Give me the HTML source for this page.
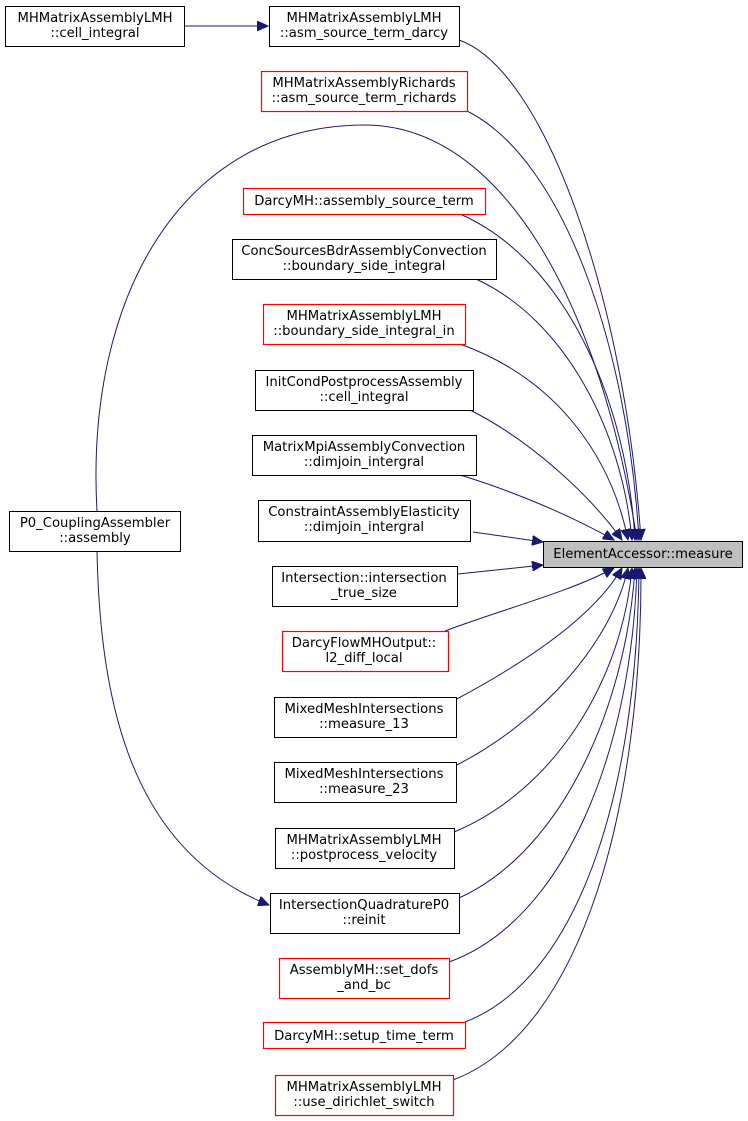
<!DOCTYPE html>
<html><head><meta charset="utf-8"><style>
html,body{margin:0;padding:0;background:#fff;}
svg{display:block;}
text{font-family:"DejaVu Sans","Liberation Sans",sans-serif;font-size:13.2px;fill:#000;text-anchor:middle;}
.b{fill:#fff;stroke:#000;stroke-width:1;}
.r{fill:#fff;stroke:#ff0000;stroke-width:1.2;}
.e{fill:none;stroke:#191970;stroke-width:1;}
</style></head><body>
<svg width="748" height="1121" viewBox="0 0 748 1121" xmlns="http://www.w3.org/2000/svg">
<defs>
<marker id="a" markerUnits="userSpaceOnUse" markerWidth="12" markerHeight="10" refX="11" refY="5" orient="auto">
<path d="M0,0 L11,5 L0,10 Z" fill="#191970" stroke="#191970"/>
</marker>
</defs>
<g class="e">
<path d="M184,26 L268,26" marker-end="url(#a)"/>
<path d="M459,40 C545,70 625,300 641,540" marker-end="url(#a)"/>
<path d="M467,111 C565,160 628,350 639,540" marker-end="url(#a)"/>
<path d="M97,511 C85,300 180,125 365,125 C500,125 600,300 637,540" marker-end="url(#a)"/>
<path d="M460,214 C565,260 627,400 635,540" marker-end="url(#a)"/>
<path d="M476,279 C565,320 622,430 632,540" marker-end="url(#a)"/>
<path d="M460,344 C560,380 612,460 628,540" marker-end="url(#a)"/>
<path d="M470,410 C530,440 590,495 622,540" marker-end="url(#a)"/>
<path d="M460,475 C510,490 570,515 614,540" marker-end="url(#a)"/>
<path d="M473,532 L543,542" marker-end="url(#a)"/>
<path d="M458,574 L543,565" marker-end="url(#a)"/>
<path d="M445,631 C500,610 570,592 614,568" marker-end="url(#a)"/>
<path d="M455,700 C530,660 595,615 622,568" marker-end="url(#a)"/>
<path d="M455,766 C545,720 612,640 628,568" marker-end="url(#a)"/>
<path d="M454,832 C555,790 622,680 632,568" marker-end="url(#a)"/>
<path d="M459,898 C565,850 627,700 635,568" marker-end="url(#a)"/>
<path d="M449,962 C565,920 632,750 637,568" marker-end="url(#a)"/>
<path d="M465,1022 C575,980 637,800 639,568" marker-end="url(#a)"/>
<path d="M453,1080 C585,1030 642,800 641,568" marker-end="url(#a)"/>
<path d="M97,551 C100,700 130,850 269,905" marker-end="url(#a)"/>
</g>
<rect class="b" x="5.5" y="6.5" width="179" height="40"/>
<text x="95" y="22">MHMatrixAssemblyLMH</text><text x="95" y="37">::cell_integral</text>
<rect class="b" x="269.5" y="6.5" width="190" height="40"/>
<text x="364" y="22">MHMatrixAssemblyLMH</text><text x="364" y="37">::asm_source_term_darcy</text>
<rect class="r" x="261.5" y="71.5" width="206" height="40" stroke="#ff0000"/>
<text x="364" y="87">MHMatrixAssemblyRichards</text><text x="364" y="102">::asm_source_term_richards</text>
<rect class="r" x="243.5" y="188.5" width="242" height="26"/>
<text x="364" y="205">DarcyMH::assembly_source_term</text>
<rect class="b" x="232.5" y="239.5" width="264" height="40"/>
<text x="364" y="255">ConcSourcesBdrAssemblyConvection</text><text x="364" y="270">::boundary_side_integral</text>
<rect class="r" x="263.5" y="304.5" width="202" height="40"/>
<text x="364" y="320">MHMatrixAssemblyLMH</text><text x="364" y="335">::boundary_side_integral_in</text>
<rect class="b" x="255.5" y="370.5" width="218" height="40"/>
<text x="364" y="386">InitCondPostprocessAssembly</text><text x="364" y="401">::cell_integral</text>
<rect class="b" x="252.5" y="435.5" width="224" height="40"/>
<text x="364" y="451">MatrixMpiAssemblyConvection</text><text x="364" y="466">::dimjoin_intergral</text>
<rect class="b" x="258.5" y="500.5" width="212" height="41"/>
<text x="364" y="516">ConstraintAssemblyElasticity</text><text x="364" y="531">::dimjoin_intergral</text>
<rect x="543.5" y="541.5" width="199" height="26" fill="#bfbfbf" stroke="#000"/>
<text x="643" y="558">ElementAccessor::measure</text>
<rect class="b" x="272.5" y="566.5" width="185" height="40"/>
<text x="364" y="582">Intersection::intersection</text><text x="364" y="597">_true_size</text>
<rect class="r" x="282.5" y="631.5" width="166" height="40"/>
<text x="364" y="647">DarcyFlowMHOutput::</text><text x="364" y="662">l2_diff_local</text>
<rect class="b" x="274.5" y="697.5" width="182" height="40"/>
<text x="364" y="713">MixedMeshIntersections</text><text x="364" y="728">::measure_13</text>
<rect class="b" x="274.5" y="762.5" width="182" height="40"/>
<text x="364" y="778">MixedMeshIntersections</text><text x="364" y="793">::measure_23</text>
<rect class="b" x="275.5" y="828.5" width="179" height="40"/>
<text x="364" y="844">MHMatrixAssemblyLMH</text><text x="364" y="859">::postprocess_velocity</text>
<rect class="b" x="270.5" y="893.5" width="189" height="40"/>
<text x="364" y="909">IntersectionQuadratureP0</text><text x="364" y="924">::reinit</text>
<rect class="r" x="279.5" y="958.5" width="170" height="40"/>
<text x="364" y="974">AssemblyMH::set_dofs</text><text x="364" y="989">_and_bc</text>
<rect class="r" x="263.5" y="1022.5" width="202" height="26"/>
<text x="364" y="1040">DarcyMH::setup_time_term</text>
<rect class="r" x="275.5" y="1075.5" width="178" height="40" stroke="#ff0000"/>
<text x="364" y="1091">MHMatrixAssemblyLMH</text><text x="364" y="1106">::use_dirichlet_switch</text>
<rect class="b" x="9.5" y="511.5" width="171" height="40"/>
<text x="95" y="527">P0_CouplingAssembler</text><text x="95" y="542">::assembly</text>
</svg>
</body></html>
